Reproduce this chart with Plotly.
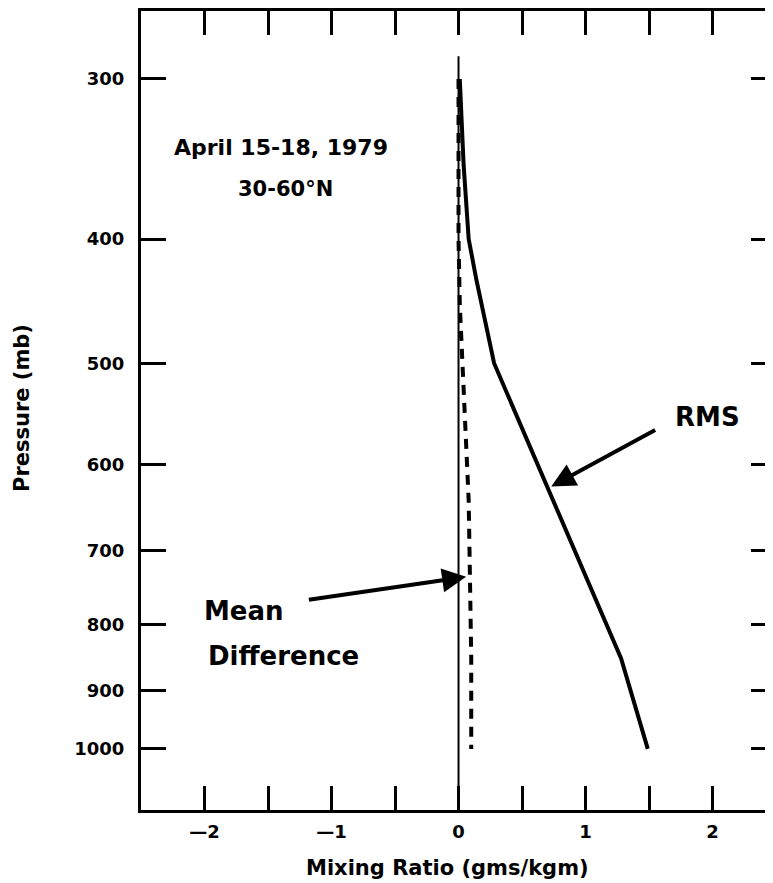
import plotly.graph_objects as go
import math

# Data
rms_pressure = [300, 350, 400, 430, 500, 700, 850, 1000]
rms_values = [0.01, 0.04, 0.08, 0.14, 0.28, 0.91, 1.28, 1.49]

mean_pressure = [300, 400, 450, 500, 550, 640, 735, 850, 1000]
mean_values = [0.0, 0.0, 0.01, 0.03, 0.05, 0.08, 0.09, 0.10, 0.10]

zero_pressure = [288, 1116]
zero_values = [0, 0]

y_tickvals = [300, 400, 500, 600, 700, 800, 900, 1000]
y_ticktext = ["300", "400", "500", "600", "700", "800", "900", "1000"]
x_tickvals = [-2, -1.5, -1, -0.5, 0, 0.5, 1, 1.5, 2]
x_ticktext = ["\u20142", "", "\u20141", "", "0", "", "1", "", "2"]

FONT = "DejaVu Sans"

fig = go.Figure()
fig.add_trace(go.Scatter(x=zero_values, y=zero_pressure, mode="lines",
                         line=dict(color="black", width=2), showlegend=False))
fig.add_trace(go.Scatter(x=mean_values, y=mean_pressure, mode="lines",
                         line=dict(color="black", width=4, dash="10px,8px"), showlegend=False))
fig.add_trace(go.Scatter(x=rms_values, y=rms_pressure, mode="lines",
                         line=dict(color="black", width=4), showlegend=False))
# carrier for right-side ticks
fig.add_trace(go.Scatter(x=[None], y=[None], yaxis="y2", showlegend=False, hoverinfo="skip"))

yrange = [math.log10(1116), math.log10(265.5)]

def lp(p):
    return math.log10(p)

fig.update_layout(
    width=765, height=875,
    margin=dict(l=133, r=0, t=3, b=73, autoexpand=False),
    plot_bgcolor="white", paper_bgcolor="white",
    font=dict(family=FONT, color="black"),
    xaxis=dict(range=[-2.5, 2.476], showgrid=False, zeroline=False, automargin=False,
               showline=True, linecolor="black", linewidth=3, mirror="ticks",
               ticks="inside", ticklen=24, tickwidth=3, tickcolor="black",
               tickvals=x_tickvals, ticktext=x_ticktext,
               tickfont=dict(size=18, family=FONT, weight="bold"),
               ticklabelstandoff=3),
    yaxis=dict(type="log", range=yrange, showgrid=False, zeroline=False, automargin=False,
               showline=True, linecolor="black", linewidth=3,
               ticks="inside", ticklen=25, tickwidth=3, tickcolor="black",
               tickvals=y_tickvals, ticktext=y_ticktext,
               tickfont=dict(size=18, family=FONT, weight="bold"),
               ticklabelstandoff=10),
    yaxis2=dict(type="log", range=yrange, overlaying="y", side="right", automargin=False,
                showgrid=False, zeroline=False, showline=False,
                ticks="inside", ticklen=22, tickwidth=3, tickcolor="black",
                tickvals=y_tickvals, showticklabels=False),
    annotations=[
        # axis titles
        dict(x=(447 - 141) / 632, y=-(868 - 810) / 799, xref="paper", yref="paper",
             xanchor="center", yanchor="middle",
             text="<b>Mixing Ratio (gms/kgm)</b>", showarrow=False,
             font=dict(size=21, family=FONT)),
        dict(x=(22 - 141) / 632, y=(810 - 408) / 799, xref="paper", yref="paper",
             xanchor="center", yanchor="middle",
             text="<b>Pressure (mb)</b>", showarrow=False, textangle=-90,
             font=dict(size=21, family=FONT)),
        # labels
        dict(x=-1.40, y=lp(339.6), xref="x", yref="y", xanchor="center", yanchor="middle",
             text="<b>April 15-18, 1979</b>", showarrow=False,
             font=dict(size=22, family=FONT)),
        dict(x=-1.36, y=lp(365.6), xref="x", yref="y", xanchor="center", yanchor="middle",
             text="<b>30-60°N</b>", showarrow=False,
             font=dict(size=21, family=FONT)),
        dict(x=1.96, y=lp(551), xref="x", yref="y", xanchor="center", yanchor="middle",
             text="<b>RMS</b>", showarrow=False,
             font=dict(size=26, family=FONT)),
        dict(x=-1.693, y=lp(780), xref="x", yref="y", xanchor="center", yanchor="middle",
             text="<b>Mean</b>", showarrow=False,
             font=dict(size=26, family=FONT)),
        dict(x=-1.378, y=lp(846), xref="x", yref="y", xanchor="center", yanchor="middle",
             text="<b>Difference</b>", showarrow=False,
             font=dict(size=26, family=FONT)),
        # arrows
        dict(x=0.73, y=lp(624), ax=1.56, ay=lp(563),
             xref="x", yref="y", axref="x", ayref="y", text="",
             showarrow=True, arrowhead=2, arrowsize=1.2, arrowwidth=4, arrowcolor="black"),
        dict(x=0.06, y=lp(734), ax=-1.19, ay=lp(765),
             xref="x", yref="y", axref="x", ayref="y", text="",
             showarrow=True, arrowhead=2, arrowsize=1.2, arrowwidth=4, arrowcolor="black"),
    ],
)

fig.write_html("out.html")
